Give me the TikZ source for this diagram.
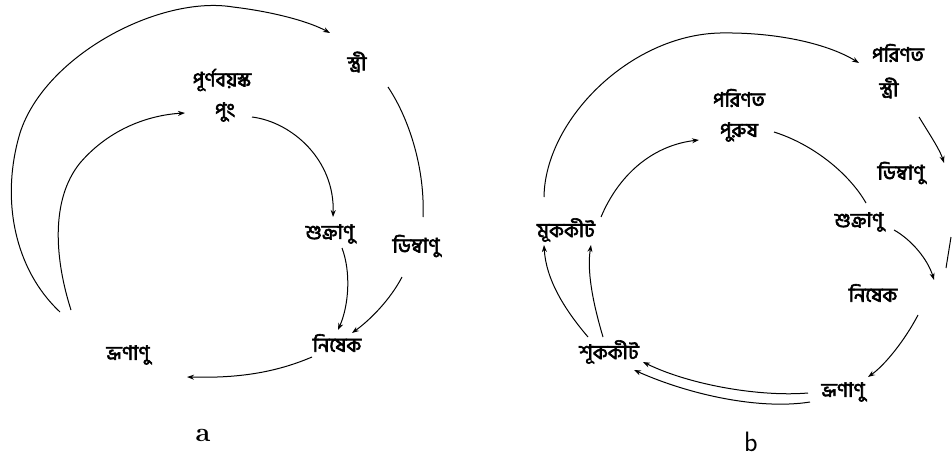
\documentclass[tikz,border=0pt]{standalone}
\usepackage{fontspec}
\newfontfamily\bn[Script=Bengali, FakeBold=3]{Hind Siliguri}
\usetikzlibrary{arrows.meta}
\begin{document}
\begin{tikzpicture}[x=1pt,y=-1pt,
  lbl/.style={font=\bn\fontsize{20}{22}\selectfont, inner sep=1pt},
  panel/.style={font=\bfseries\fontsize{27}{29}\selectfont, inner sep=1pt},
  ln/.style={line width=1pt, black},
  arr/.style={ln, -{Stealth[length=7pt,width=5pt]}}]
\useasboundingbox (0,0) rectangle (952,463);
% ---------- part a ----------
\node[lbl] (aS) at (357,62) {স্ত্রী};
\node[lbl] (aM1) at (222,80) {পূর্ণবয়স্ক};
\node[lbl] (aM2) at (225,112) {পুং};
\node[lbl] (aSp) at (330,234) {শুক্রাণু};
\node[lbl] (aOv) at (416,246) {ডিম্বাণু};
\node[lbl] (aF) at (337,343) {নিষেক};
\node[lbl] (aZ) at (128,355) {ভ্রূণাণু};
\node[panel] (aL) at (203,435) {a};
\coordinate (a1s) at (60,312);
\coordinate (a1e) at (330,33);
\coordinate (a2s) at (388,87);
\coordinate (a2e) at (423,217);
\coordinate (a3s) at (402,277);
\coordinate (a3e) at (352,333);
\coordinate (a4s) at (252,117);
\coordinate (a4e) at (333,217);
\coordinate (a5s) at (342,248);
\coordinate (a5e) at (338,330);
\coordinate (a6s) at (312,357);
\coordinate (a6e) at (187,377);
\coordinate (a7s) at (71,310);
\coordinate (a7e) at (185,113);
\draw[arr] (a1s) .. controls (15,270) and (0,200) .. (20,133)
  .. controls (45,55) and (160,-5) .. (233,7)
  .. controls (275,12) and (310,22) .. (a1e);
\draw[ln] (a2s) .. controls (410,120) and (425,170) .. (a2e);
\draw[arr] (a3s) .. controls (390,300) and (370,320) .. (a3e);
\draw[arr] (a4s) .. controls (292,122) and (335,160) .. (a4e);
\draw[arr] (a5s) .. controls (351,272) and (349,305) .. (a5e);
\draw[arr] (a6s) .. controls (270,375) and (230,378) .. (a6e);
\draw[arr] (a7s) .. controls (55,260) and (50,200) .. (80,163)
  .. controls (110,128) and (150,115) .. (a7e);
% ---------- part b ----------
\node[lbl] (bF1) at (898,53) {পরিণত};
\node[lbl] (bF2) at (889,88) {স্ত্রী};
\node[lbl] (bM1) at (739,98) {পরিণত};
\node[lbl] (bM2) at (739,132) {পুরুষ};
\node[lbl] (bOv) at (901,173) {ডিম্বাণু};
\node[lbl] (bSp) at (859,222) {শুক্রাণু};
\node[lbl] (bFe) at (873,293) {নিষেক};
\node[lbl] (bZ) at (843,392) {ভ্রূণাণু};
\node[lbl] (bLa) at (609,352) {শূককীট};
\node[lbl] (bPu) at (566,230) {মূককীট};
\node[panel, font=\sffamily\fontsize{28}{30}\selectfont] (bL) at (751,442) {b};
\coordinate (b1s) at (544,197);
\coordinate (b1e) at (859,63);
\coordinate (b2s) at (919,117);
\coordinate (b2e) at (944,163);
\coordinate (b3s) at (951,237);
\coordinate (b3e) at (946,268);
\coordinate (b4s) at (774,132);
\coordinate (b4e) at (866,203);
\coordinate (b5s) at (894,230);
\coordinate (b5e) at (934,280);
\coordinate (b6s) at (918,315);
\coordinate (b6e) at (868,377);
\coordinate (b7s) at (808,393);
\coordinate (b7e) at (643,362);
\coordinate (b8s) at (810,402);
\coordinate (b8e) at (634,370);
\coordinate (b9s) at (588,337);
\coordinate (b9e) at (544,245);
\coordinate (b10s) at (603,337);
\coordinate (b10e) at (591,245);
\coordinate (b11s) at (601,217);
\coordinate (b11e) at (699,140);
\draw[arr] (b1s) .. controls (545,120) and (630,35) .. (720,33)
  .. controls (780,32) and (830,45) .. (b1e);
\draw[arr] (b2s) .. controls (930,135) and (940,150) .. (b2e);
\draw[ln] (b3s) -- (b3e);
\draw[ln] (b4s) .. controls (815,145) and (850,175) .. (b4e);
\draw[arr] (b5s) .. controls (912,240) and (928,260) .. (b5e);
\draw[arr] (b6s) .. controls (905,340) and (885,365) .. (b6e);
\draw[arr] (b7s) .. controls (760,397) and (690,385) .. (b7e);
\draw[arr] (b8s) .. controls (760,410) and (690,395) .. (b8e);
\draw[arr] (b9s) .. controls (565,310) and (546,280) .. (b9e);
\draw[arr] (b10s) .. controls (592,300) and (587,270) .. (b10e);
\draw[arr] (b11s) .. controls (620,172) and (655,145) .. (b11e);
\end{tikzpicture}
\end{document}
